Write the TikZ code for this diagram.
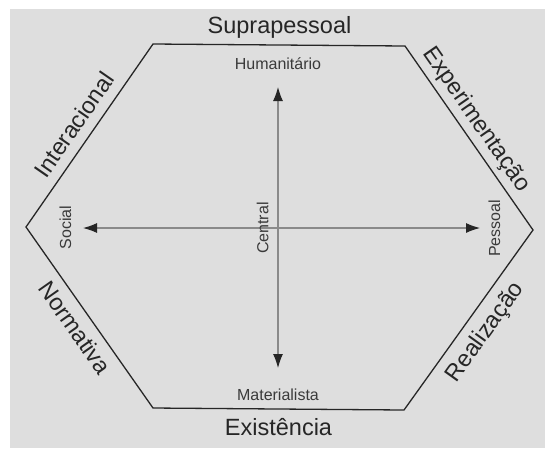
\documentclass[tikz,border=0pt]{standalone}
\usepackage{fontspec}
\setmainfont{Liberation Sans}
\usetikzlibrary{arrows.meta}
\definecolor{bggray}{HTML}{DEDEDE}
\definecolor{inkdark}{HTML}{262626}
\definecolor{inksmall}{HTML}{3A3A3A}
\definecolor{axisgray}{HTML}{8A8A8A}
\tikzset{
  biglabel/.style={font=\fontsize{23.5}{28}\selectfont, text=inkdark, inner sep=0pt, anchor=base},
  smalllabel/.style={font=\fontsize{16}{19}\selectfont, text=inksmall, inner sep=0pt, anchor=base},
  hexline/.style={draw=inkdark, line width=1.3pt, line join=miter},
  axisarrow/.style={draw=axisgray, line width=1.1pt, -{Latex[length=14pt,width=10pt,color=inkdark]}}
}
\begin{document}
\begin{tikzpicture}[x=1pt,y=-1pt]
\useasboundingbox (0,0) rectangle (545,448);
\fill[white] (0,0) rectangle (545,448);
\fill[bggray] (10,9) rectangle (545,448);
% hexagon vertices
\coordinate (tl) at (153,44);
\coordinate (tr) at (405,46);
\coordinate (r) at (533,230);
\coordinate (br) at (404,410);
\coordinate (bl) at (153,408);
\coordinate (l) at (26,227);
\draw[hexline] (tl) -- (tr) -- (r) -- (br) -- (bl) -- (l) -- cycle;
% axes
\coordinate (c) at (278,228);
\coordinate (up) at (278,87);
\coordinate (down) at (278,368);
\coordinate (left) at (83,228);
\coordinate (right) at (480,228);
\draw[axisarrow] (c) -- (up);
\draw[axisarrow] (c) -- (down);
\draw[axisarrow] (c) -- (left);
\draw[axisarrow] (c) -- (right);
% outer labels
\node[biglabel] (sup) at (279.5,33) {Suprapessoal};
\node[biglabel] (exi) at (278.5,435) {Existência};
\node[biglabel, rotate=55.3] (int) at (80.9,129.5) {Interacional};
\node[biglabel, rotate=-55.2] (exp) at (471.2,123.1) {Experimentação};
\node[biglabel, rotate=-54.9] (nor) at (68.4,332.3) {Normativa};
\node[biglabel, rotate=54.4] (rea) at (490.7,335.9) {Realização};
% inner labels
\node[smalllabel] (hum) at (278,69.3) {Humanitário};
\node[smalllabel] (mat) at (278,400.5) {Materialista};
\node[smalllabel, rotate=90] (soc) at (71,227.5) {Social};
\node[smalllabel, rotate=90] (pes) at (500,228.5) {Pessoal};
\node[smalllabel, rotate=90] (cen) at (268.3,228) {Central};
\end{tikzpicture}
\end{document}
